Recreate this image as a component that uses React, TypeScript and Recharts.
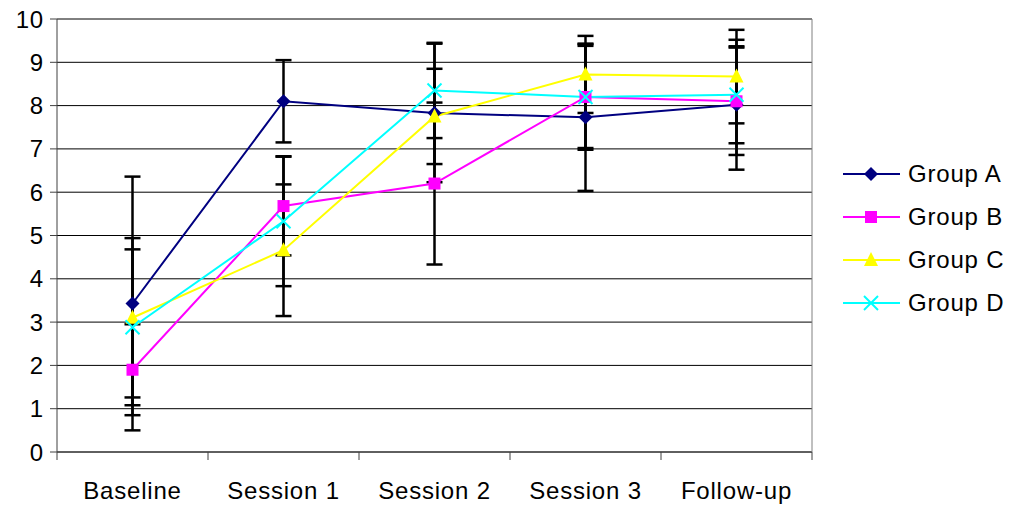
import {
  LineChart,
  Line,
  XAxis,
  YAxis,
  CartesianGrid,
  ErrorBar,
  Legend,
} from "recharts";

const categories = ["Baseline", "Session 1", "Session 2", "Session 3", "Follow-up"];

const groupA = [3.43, 8.1, 7.83, 7.73, 8.02];
const groupB = [1.9, 5.68, 6.2, 8.2, 8.1];
const groupC = [3.1, 4.66, 7.75, 8.72, 8.67];
const groupD = [2.88, 5.33, 8.35, 8.2, 8.25];

const errA = [2.93, 0.95, 1.6, 1.7, 1.5];
const errB = [1.05, 1.14, 1.87, 1.18, 1.24];
const errC = [1.84, 1.52, 1.1, 0.89, 1.08];
const errD = [1.8, 1.5, 1.1, 1.22, 1.12];

const yTicks = [0, 1, 2, 3, 4, 5, 6, 7, 8, 9, 10];
const sepTicks = [0, 1, 2, 3, 4, 5];

const data = categories.map((name, i) => ({
  name,
  slot: i + 0.5,
  "Group A": groupA[i],
  "Group B": groupB[i],
  "Group C": groupC[i],
  "Group D": groupD[i],
  errA: errA[i],
  errB: errB[i],
  errC: errC[i],
  errD: errD[i],
}));

type Shape = "diamond" | "square" | "triangle" | "x";

const series: { key: string; err: string; color: string; shape: Shape }[] = [
  { key: "Group A", err: "errA", color: "#000080", shape: "diamond" },
  { key: "Group B", err: "errB", color: "#ff00ff", shape: "square" },
  { key: "Group C", err: "errC", color: "#ffff00", shape: "triangle" },
  { key: "Group D", err: "errD", color: "#00ffff", shape: "x" },
];

const font = "'Liberation Sans', Arial, sans-serif";

function Marker({ shape, color, cx, cy }: { shape: Shape; color: string; cx: number; cy: number }) {
  if (shape === "diamond") {
    return (
      <polygon
        points={`${cx},${cy - 7} ${cx + 7},${cy} ${cx},${cy + 7} ${cx - 7},${cy}`}
        fill={color}
      />
    );
  }
  if (shape === "square") {
    return <rect x={cx - 6} y={cy - 6} width={12} height={12} fill={color} />;
  }
  if (shape === "triangle") {
    return (
      <polygon
        points={`${cx},${cy - 8} ${cx + 7},${cy + 6} ${cx - 7},${cy + 6}`}
        fill={color}
      />
    );
  }
  return (
    <g stroke={color} strokeWidth={2}>
      <line x1={cx - 7} y1={cy - 7} x2={cx + 7} y2={cy + 7} />
      <line x1={cx - 7} y1={cy + 7} x2={cx + 7} y2={cy - 7} />
    </g>
  );
}

function LegendBox() {
  return (
    <div style={{ fontFamily: font, fontSize: 24, letterSpacing: 0.8, color: "#000" }}>
      {series.map((s) => (
        <div key={s.key} style={{ display: "flex", alignItems: "center", height: 43 }}>
          <svg width={58} height={20} style={{ overflow: "visible" }}>
            <line x1={0} y1={10} x2={57} y2={10} stroke={s.color} strokeWidth={2} />
            <Marker shape={s.shape} color={s.color} cx={28} cy={10} />
          </svg>
          <span style={{ marginLeft: 7 }}>{s.key}</span>
        </div>
      ))}
    </div>
  );
}

export default function App() {
  return (
    <div style={{ position: "absolute", left: 0, top: 0, background: "#fff" }}>
      <LineChart
        width={1011}
        height={506}
        data={data}
        margin={{ top: 19, right: 198, bottom: 0, left: 0 }}
      >
        <CartesianGrid vertical={false} stroke="#000" />
        {/* id 0 sits next to the plot: it only draws the separators between categories */}
        <XAxis
          xAxisId={0}
          type="number"
          dataKey="slot"
          domain={[0, 5]}
          ticks={sepTicks}
          tickFormatter={() => ""}
          tickSize={8}
          height={1}
          stroke="#404040"
          allowDataOverflow
        />
        <XAxis
          xAxisId={1}
          dataKey="name"
          height={53}
          axisLine={false}
          tickLine={false}
          tickSize={0}
          tickMargin={29}
          padding={{ left: 75.5, right: 75.5 }}
          tick={{ fill: "#000", fontSize: 24, fontFamily: font, letterSpacing: 0.8 }}
        />
        <YAxis
          width={57}
          domain={[0, 10]}
          ticks={yTicks}
          interval={0}
          tickSize={7}
          tickMargin={6}
          stroke="#404040"
          tick={{ fill: "#000", fontSize: 24, fontFamily: font, letterSpacing: 0.8 }}
        />
        <YAxis
          yAxisId="r"
          orientation="right"
          width={1}
          domain={[0, 10]}
          tick={false}
          tickLine={false}
          stroke="#808080"
        />
        <Legend
          layout="vertical"
          align="center"
          verticalAlign="middle"
          wrapperStyle={{ left: 843, top: 152, width: 168 }}
          content={() => <LegendBox />}
        />
        {series.map((s) => (
          <Line
            key={s.key}
            xAxisId={1}
            dataKey={s.key}
            stroke={s.color}
            strokeWidth={2}
            isAnimationActive={false}
            dot={false}
            activeDot={false}
            legendType="none"
          >
            <ErrorBar dataKey={s.err} width={8} stroke="#000" strokeWidth={2.5} direction="y" />
          </Line>
        ))}
        {series.map((s) => (
          <Line
            key={`${s.key}-markers`}
            xAxisId={1}
            dataKey={s.key}
            stroke="none"
            isAnimationActive={false}
            legendType="none"
            activeDot={false}
            dot={(p: any) => (
              <Marker key={`${s.key}-${p.index}`} shape={s.shape} color={s.color} cx={p.cx} cy={p.cy} />
            )}
          />
        ))}
      </LineChart>
    </div>
  );
}
